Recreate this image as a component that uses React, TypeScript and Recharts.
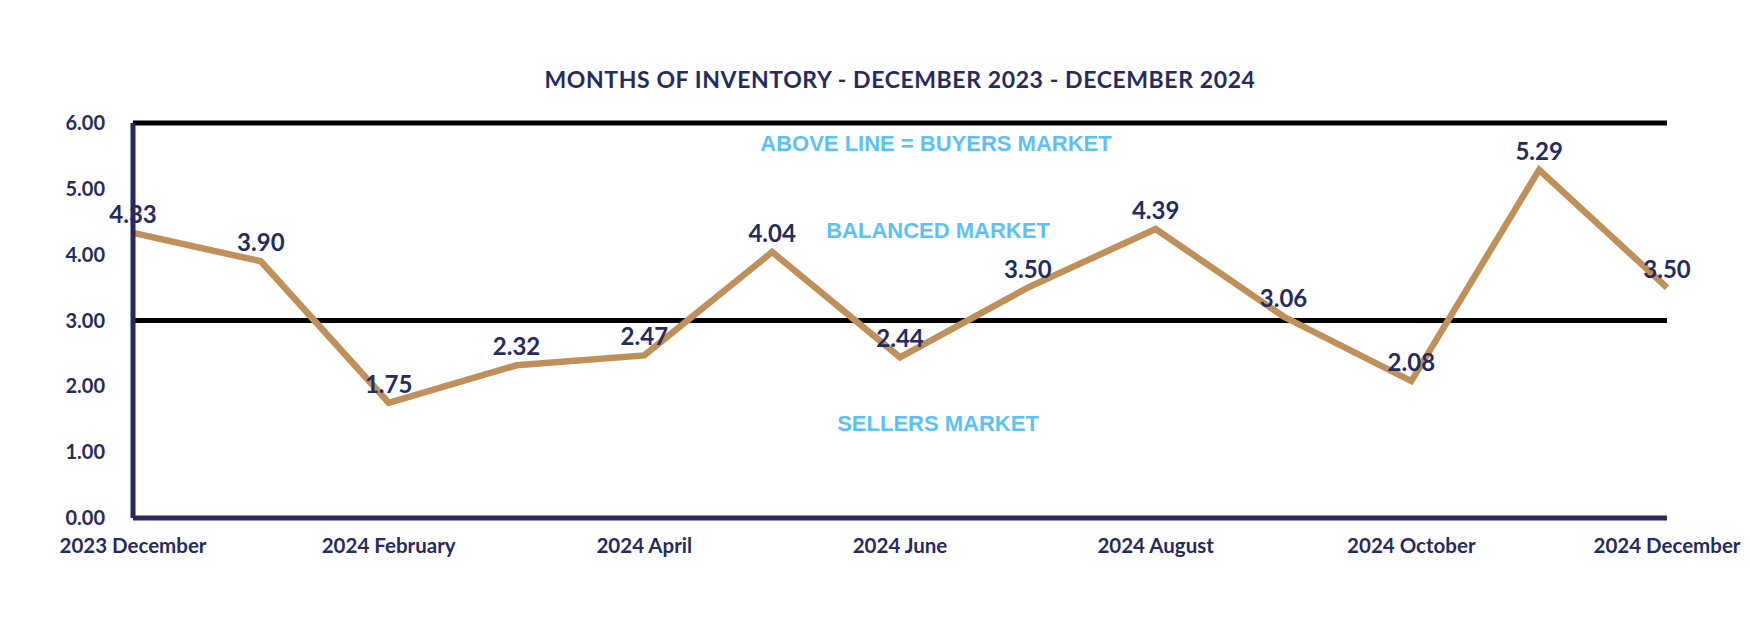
import { LabelList, Line, LineChart, ReferenceArea, ReferenceLine, XAxis, YAxis } from "recharts"

const months = [
  "2023 December", "2024 January", "2024 February", "2024 March", "2024 April", "2024 May",
  "2024 June", "2024 July", "2024 August", "2024 September", "2024 October", "2024 November", "2024 December",
]
const inventory = [4.33, 3.90, 1.75, 2.32, 2.47, 4.04, 2.44, 3.50, 4.39, 3.06, 2.08, 5.29, 3.50]
const leftTicks = [0, 1, 2, 3, 4, 5, 6]
const rightTicks = [3, 6]

const NAVY = "#262b5f"
const GOLD = "#bf9059"
const SKY = "#5bc2f7"
const FONT = "Lato, 'Open Sans', sans-serif"
const ZONE_FONT = "'Liberation Sans', Arial, sans-serif"

const data = months.map((month, i) => ({ month, value: inventory[i] }))

export default function App() {
  return (
    <div style={{ position: "relative", width: 1750, height: 628, margin: -8, background: "#fff", fontFamily: FONT }}>
      <div
        style={{
          position: "absolute",
          top: 65,
          left: 0,
          width: 1800,
          textAlign: "center",
          fontSize: 23,
          letterSpacing: 0.6,
          fontWeight: 700,
          color: NAVY,
        }}
      >
        MONTHS OF INVENTORY - DECEMBER 2023 - DECEMBER 2024
      </div>
      <LineChart width={1750} height={628} data={data} margin={{ top: 123, right: 0, left: 0, bottom: 0 }}>
        <XAxis
          dataKey="month"
          interval={1}
          height={110}
          tickSize={0}
          tickMargin={20}
          axisLine={{ stroke: NAVY, strokeWidth: 5 }}
          tick={{ fill: NAVY, fontSize: 20.5, fontWeight: 700, fontFamily: FONT }}
        />
        <YAxis
          yAxisId="left"
          domain={[0, 6]}
          ticks={leftTicks}
          width={133}
          tickSize={0}
          tickMargin={28}
          tickFormatter={(v: number) => v.toFixed(2)}
          axisLine={{ stroke: NAVY, strokeWidth: 5 }}
          tick={{ fill: NAVY, fontSize: 20, fontWeight: 700, fontFamily: FONT }}
        />
        <YAxis
          yAxisId="right"
          orientation="right"
          domain={[0, 6]}
          ticks={rightTicks}
          width={83}
          tickSize={0}
          tickMargin={16}
          axisLine={false}
          tickFormatter={(v: number) => v.toFixed(2)}
          tick={{ fill: "#000", fontSize: 20, fontWeight: 700, fontFamily: FONT }}
        />

        <ReferenceArea
          yAxisId="left"
          y1={3}
          y2={6}
          fill="none"
          stroke="none"
          label={{ value: "BALANCED MARKET", position: "center", dx: 38, dy: 8, fill: SKY, fontSize: 22, fontWeight: 700, fontFamily: ZONE_FONT }}
        />
        <ReferenceArea
          yAxisId="left"
          y1={0}
          y2={3}
          fill="none"
          stroke="none"
          label={{ value: "SELLERS MARKET", position: "center", dx: 38, dy: 4, fill: SKY, fontSize: 22, fontWeight: 700, fontFamily: ZONE_FONT }}
        />
        <ReferenceLine
          yAxisId="left"
          y={6}
          stroke="#000"
          strokeWidth={5}
          label={{ value: "ABOVE LINE = BUYERS MARKET", position: "bottom", offset: 12, dx: 36, fill: SKY, fontSize: 22, fontWeight: 700, fontFamily: ZONE_FONT }}
        />
        <ReferenceLine yAxisId="left" y={3} stroke="#000" strokeWidth={5} />

        <Line
          yAxisId="left"
          type="linear"
          dataKey="value"
          stroke={GOLD}
          strokeWidth={6.5}
          strokeLinejoin="miter"
          dot={false}
          activeDot={false}
          isAnimationActive={false}
        >
          <LabelList
            dataKey="value"
            position="top"
            offset={10}
            formatter={(v: any) => Number(v).toFixed(2)}
            fill={NAVY}
            fontSize={24}
            fontWeight={700}
            fontFamily={FONT}
          />
        </Line>
      </LineChart>
    </div>
  )
}
